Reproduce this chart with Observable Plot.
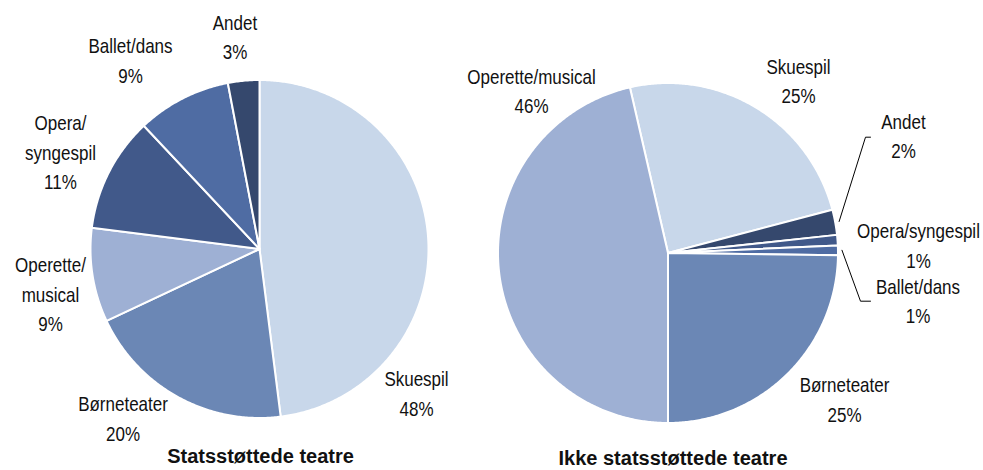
<!DOCTYPE html>
<html><head><meta charset="utf-8">
<script src="https://cdn.jsdelivr.net/npm/d3@7"></script>
<script src="https://cdn.jsdelivr.net/npm/@observablehq/plot@0.6"></script>
<style>body{margin:0;background:#fff;}</style>
</head><body><div id="chart"></div>
<script>
// ---- data ----
const categories = ["Skuespil","Børneteater","Operette/musical","Opera/syngespil","Ballet/dans","Andet"];
const catColors  = ["#c8d7ea","#6b87b5","#9eb0d4","#41598a","#4f6ca3","#35486d"];

const statsOrder  = ["Skuespil","Børneteater","Operette/musical","Opera/syngespil","Ballet/dans","Andet"];
const statsValues = [48, 20, 9, 11, 9, 3];
const statsLabelNames = ["Skuespil","Børneteater","Operette/\nmusical","Opera/\nsyngespil","Ballet/dans","Andet"];

const ikkeOrder  = ["Skuespil","Andet","Opera/syngespil","Ballet/dans","Børneteater","Operette/musical"];
const ikkeValues = [24.5, 2.4, 1.0, 0.9, 24.8, 46.4];
const ikkeLabelNames = ["Skuespil","Andet","Opera/syngespil","Ballet/dans","Børneteater","Operette/musical"];

const titles = ["Statsstøttede teatre","Ikke statsstøttede teatre"];

// ---- layout ----
const W = 983, H = 470;
const FS = 21, LH = 1.4, NARROW = 0.81, TFS = 20;
const ikkeStart = Math.PI - 2*Math.PI*d3.sum(ikkeValues.slice(0,5))/d3.sum(ikkeValues);
const pies = [
  {title: titles[0], order: statsOrder, values: statsValues, names: statsLabelNames,
   cx: 259, cy: 248.5, r: 169, start: 0, titlePos: [260, 462.7],
   labelPos: [[416,386],[122.5,411],[50,271.7],[60,130],[130,52.7],[234.5,29.3]],
   leaders: {}},
  {title: titles[1], order: ikkeOrder, values: ikkeValues, names: ikkeLabelNames,
   cx: 667.5, cy: 252.5, r: 170, start: ikkeStart, titlePos: [672.5, 464],
   labelPos: [[798,73.3],[903,128.3],[918,237.7],[917.5,293.3],[844,391.7],[531,83.3]],
   leaders: {"Andet": [[865,136.7],[870,136.7]], "Ballet/dans": [[860,300.7],[870,300.7]]}}
];

const slicePts = [], labels = [], leaderPts = [], titleRows = [];
pies.forEach((p, pi) => {
  const total = d3.sum(p.values);
  let a = p.start;
  p.order.forEach((cat, i) => {
    const a0 = a, a1 = a + 2*Math.PI*p.values[i]/total;
    a = a1;
    const key = pi + "-" + cat;
    slicePts.push({key, cat, x: p.cx, y: p.cy});
    const n = Math.max(2, Math.ceil((a1 - a0) / (Math.PI/360)));
    for (let k = 0; k <= n; k++) {
      const t = a0 + (a1 - a0) * k / n;
      slicePts.push({key, cat, x: p.cx + p.r*Math.sin(t), y: p.cy - p.r*Math.cos(t)});
    }
    // multi-line text with lineAnchor "top": first baseline sits 0.71*lineHeight em below y
    labels.push({x: p.labelPos[i][0], y: p.labelPos[i][1] - 0.71*LH*FS,
                 text: p.names[i] + "\n" + Math.round(p.values[i]) + "%"});
    if (p.leaders[cat]) {
      const m = (a0 + a1)/2, rr = p.r + 4;
      const lk = "L" + key;
      leaderPts.push({key: lk, x: p.cx + rr*Math.sin(m), y: p.cy - rr*Math.cos(m)});
      p.leaders[cat].forEach(([x, y]) => leaderPts.push({key: lk, x, y}));
    }
  });
  titleRows.push({x: p.titlePos[0], y: p.titlePos[1] - 0.71*TFS, text: p.title});
});

function condense(index, scales, values, dims, context, next) {
  const g = next(index, scales, values, dims, context);
  g.querySelectorAll("text").forEach(t => {
    const tr = t.getAttribute("transform") || "";
    t.setAttribute("transform", tr + ` scale(${NARROW},1)`);
  });
  return g;
}

const chart = Plot.plot({
  width: W, height: H, margin: 0,
  x: {domain: [0, W], range: [0, W], axis: null},
  y: {domain: [0, H], range: [0, H], axis: null},
  color: {domain: categories, range: catColors},
  style: {background: "#fff", overflow: "visible"},
  marks: [
    Plot.line(slicePts, {x: "x", y: "y", z: "key", fill: "cat", stroke: "#fff",
      strokeWidth: 2, strokeLinejoin: "round", curve: "linear-closed"}),
    Plot.line(leaderPts, {x: "x", y: "y", z: "key", stroke: "#000", strokeWidth: 1, strokeLinejoin: "miter"}),
    Plot.text(labels, {x: "x", y: "y", text: "text", lineAnchor: "top", textAnchor: "middle",
      fontSize: FS, lineHeight: LH, fill: "#111",
      fontFamily: "'Liberation Sans',Arial,sans-serif", render: condense}),
    Plot.text(titleRows, {x: "x", y: "y", text: "text", lineAnchor: "top", textAnchor: "middle",
      fontSize: TFS, fontWeight: "bold", fill: "#111",
      fontFamily: "'Liberation Sans',Arial,sans-serif"})
  ]
});
document.getElementById("chart").appendChild(chart);
</script>
</body></html>
